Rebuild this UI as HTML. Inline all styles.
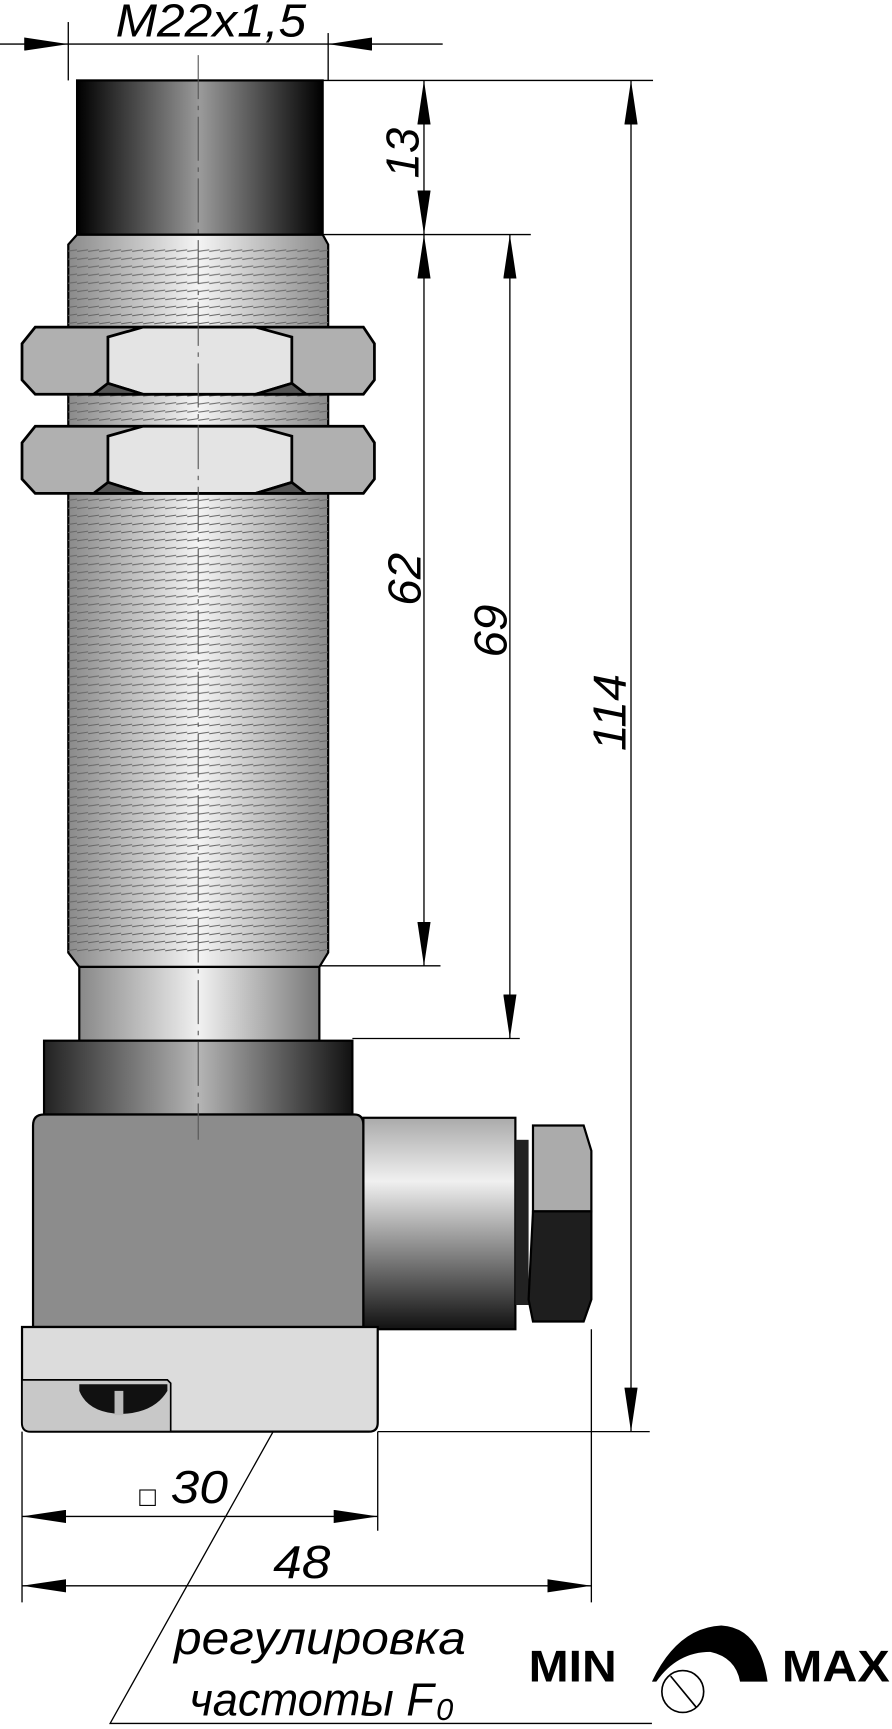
<!DOCTYPE html>
<html><head><meta charset="utf-8"><style>html,body{margin:0;padding:0;background:#fff}svg{display:block}</style></head>
<body>
<svg width="892" height="1729" viewBox="0 0 810 1570" xmlns="http://www.w3.org/2000/svg" font-family="Liberation Sans, sans-serif">
<defs>
<linearGradient id="cap" x1="0" x2="1"><stop offset="0" stop-color="#000"/><stop offset="0.5" stop-color="#9a9a9a"/><stop offset="1" stop-color="#000"/></linearGradient>
<linearGradient id="thr" x1="0" x2="1"><stop offset="0" stop-color="#8a8a8a"/><stop offset="0.5" stop-color="#f4f4f4"/><stop offset="1" stop-color="#8a8a8a"/></linearGradient>
<linearGradient id="neck" x1="0" x2="1"><stop offset="0" stop-color="#888"/><stop offset="0.5" stop-color="#f0f0f0"/><stop offset="1" stop-color="#777"/></linearGradient>
<linearGradient id="col" x1="0" x2="1"><stop offset="0" stop-color="#222"/><stop offset="0.5" stop-color="#b5b5b5"/><stop offset="1" stop-color="#111"/></linearGradient>
<linearGradient id="conn" x1="0" x2="0" y1="0" y2="1"><stop offset="0" stop-color="#aaa"/><stop offset="0.3" stop-color="#f0f0f0"/><stop offset="1" stop-color="#111"/></linearGradient>
<pattern id="lines" width="10" height="7.3" patternUnits="userSpaceOnUse"><line x1="0" y1="2" x2="10" y2="0.5" stroke="#666" stroke-width="0.9"/></pattern>
<marker id="a" viewBox="0 0 40 12" refX="40" refY="6" markerWidth="40" markerHeight="12" orient="auto-start-reverse" markerUnits="userSpaceOnUse"><path d="M0,0 L40,6 L0,12Z" fill="#000"/></marker>
</defs>

<path d="M70,213 L293,213 L298,222 L298,865 L290,878 L72,878 L62,865 L62,222Z" fill="url(#thr)" stroke="#000" stroke-width="2"/>
<rect x="62" y="222" width="236" height="643" fill="url(#lines)"/>
<rect x="70" y="73" width="223" height="140" fill="url(#cap)" stroke="#000" stroke-width="2"/>
<g stroke="#000" stroke-width="2.5">
<g>
<path d="M32,297 L330,297 L340,312 L340,345 L330,358 L32,358 L20,345 L20,312Z" fill="#b0b0b0"/>
<path d="M98,306 L130,297 L232,297 L265,306 L265,348 L232,358 L130,358 L98,348Z" fill="#e4e4e4"/>
<path d="M98,348 L130,358 L85,358Z M265,348 L232,358 L278,358Z" fill="#555"/>
</g>
<g transform="translate(0,90)">
<path d="M32,297 L330,297 L340,312 L340,345 L330,358 L32,358 L20,345 L20,312Z" fill="#b0b0b0"/>
<path d="M98,306 L130,297 L232,297 L265,306 L265,348 L232,358 L130,358 L98,348Z" fill="#e4e4e4"/>
<path d="M98,348 L130,358 L85,358Z M265,348 L232,358 L278,358Z" fill="#555"/>
</g>
</g>
<rect x="72" y="878" width="218" height="67" fill="url(#neck)" stroke="#000" stroke-width="2"/>
<rect x="40" y="945" width="280" height="67" fill="url(#col)" stroke="#000" stroke-width="2"/>
<path d="M40,1012 L322,1012 Q330,1012 330,1022 L330,1205 L30,1205 L30,1022 Q30,1012 40,1012Z" fill="#8c8c8c" stroke="#000" stroke-width="2"/>
<rect x="330" y="1015" width="138" height="192" fill="url(#conn)" stroke="#000" stroke-width="2"/>
<rect x="468" y="1035" width="12" height="150" fill="#222"/>
<path d="M484,1022 L530,1022 L537,1045 L537,1100 L484,1100Z" fill="#ababab" stroke="#000" stroke-width="2"/>
<path d="M484,1100 L537,1100 L537,1180 L530,1200 L484,1200 L480,1180Z" fill="#1e1e1e" stroke="#000" stroke-width="2"/>
<path d="M20,1205 L343,1205 L343,1292 Q343,1300 335,1300 L28,1300 Q20,1300 20,1292Z" fill="#dcdcdc" stroke="#000" stroke-width="2"/>
<path d="M20,1253 L152,1253 L155,1256 L155,1300 L28,1300 Q20,1300 20,1292Z" fill="#c8c8c8" stroke="#000" stroke-width="1.5"/>
<path d="M72,1257 L152,1257 L152,1263 Q140,1283 110,1284 Q80,1283 72,1263Z" fill="#111"/>
<rect x="104" y="1263" width="8" height="22" fill="#bbb"/>
<line x1="180" y1="50" x2="180" y2="1035" stroke="#555" stroke-width="1" stroke-dasharray="40,6,4,6"/>

<g stroke="#000" stroke-width="1.2" fill="none">
<line x1="62" y1="20" x2="62" y2="73"/><line x1="298" y1="30" x2="298" y2="73"/>
<line x1="0" y1="40" x2="62" y2="40" marker-end="url(#a)"/>
<line x1="402" y1="40" x2="298" y2="40" marker-end="url(#a)"/>
<line x1="62" y1="40" x2="298" y2="40"/>
<line x1="293" y1="73" x2="593" y2="73"/>
<line x1="293" y1="213" x2="482" y2="213"/>
<line x1="290" y1="877" x2="400" y2="877"/>
<line x1="320" y1="943" x2="472" y2="943"/>
<line x1="343" y1="1300" x2="590" y2="1300"/>
<line x1="385" y1="73" x2="385" y2="213" marker-start="url(#a)" marker-end="url(#a)"/>
<line x1="385" y1="213" x2="385" y2="877" marker-start="url(#a)" marker-end="url(#a)"/>
<line x1="463" y1="213" x2="463" y2="943" marker-start="url(#a)" marker-end="url(#a)"/>
<line x1="573" y1="73" x2="573" y2="1300" marker-start="url(#a)" marker-end="url(#a)"/>
<line x1="20" y1="1300" x2="20" y2="1455"/>
<line x1="343" y1="1300" x2="343" y2="1390"/>
<line x1="537" y1="1207" x2="537" y2="1455"/>
<line x1="20" y1="1377" x2="343" y2="1377" marker-start="url(#a)" marker-end="url(#a)"/>
<line x1="20" y1="1440" x2="537" y2="1440" marker-start="url(#a)" marker-end="url(#a)"/>
<polyline points="248,1300 100,1565 592,1565"/>
</g>
<g font-style="italic" font-size="42" fill="#000">
<text x="105" y="33" textLength="173" lengthAdjust="spacingAndGlyphs">M22x1,5</text>
<text transform="translate(380,162) rotate(-90)" textLength="46" lengthAdjust="spacingAndGlyphs">13</text>
<text transform="translate(382,550) rotate(-90)" textLength="48" lengthAdjust="spacingAndGlyphs">62</text>
<text transform="translate(460,597) rotate(-90)" textLength="48" lengthAdjust="spacingAndGlyphs">69</text>
<text transform="translate(568,682) rotate(-90)" textLength="70" lengthAdjust="spacingAndGlyphs">114</text>
<text x="155" y="1365" textLength="52" lengthAdjust="spacingAndGlyphs">30</text>
<text x="248" y="1433" textLength="52" lengthAdjust="spacingAndGlyphs">48</text>
<text x="158" y="1502" textLength="265" lengthAdjust="spacingAndGlyphs">регулировка</text>
<text x="172" y="1558" textLength="222" lengthAdjust="spacingAndGlyphs">частоты F</text>
<text x="396" y="1562" font-size="28">0</text>
</g>
<rect x="127" y="1353" width="14" height="14" fill="none" stroke="#000" stroke-width="1"/>
<text x="480" y="1527" font-size="40" font-weight="bold" fill="#000" textLength="80" lengthAdjust="spacingAndGlyphs">MIN</text>
<text x="710" y="1527" font-size="40" font-weight="bold" fill="#000" textLength="98" lengthAdjust="spacingAndGlyphs">MAX</text>
<path d="M592,1527 Q615,1478 655,1476 Q690,1478 697,1527 L672,1527 Q668,1505 645,1500 Q615,1500 596,1527 Z" fill="#000"/>
<circle cx="620" cy="1536" r="19" fill="none" stroke="#000" stroke-width="1.5"/>
<line x1="609" y1="1522" x2="632" y2="1550" stroke="#000" stroke-width="1.5"/>
</svg>
</body></html>
